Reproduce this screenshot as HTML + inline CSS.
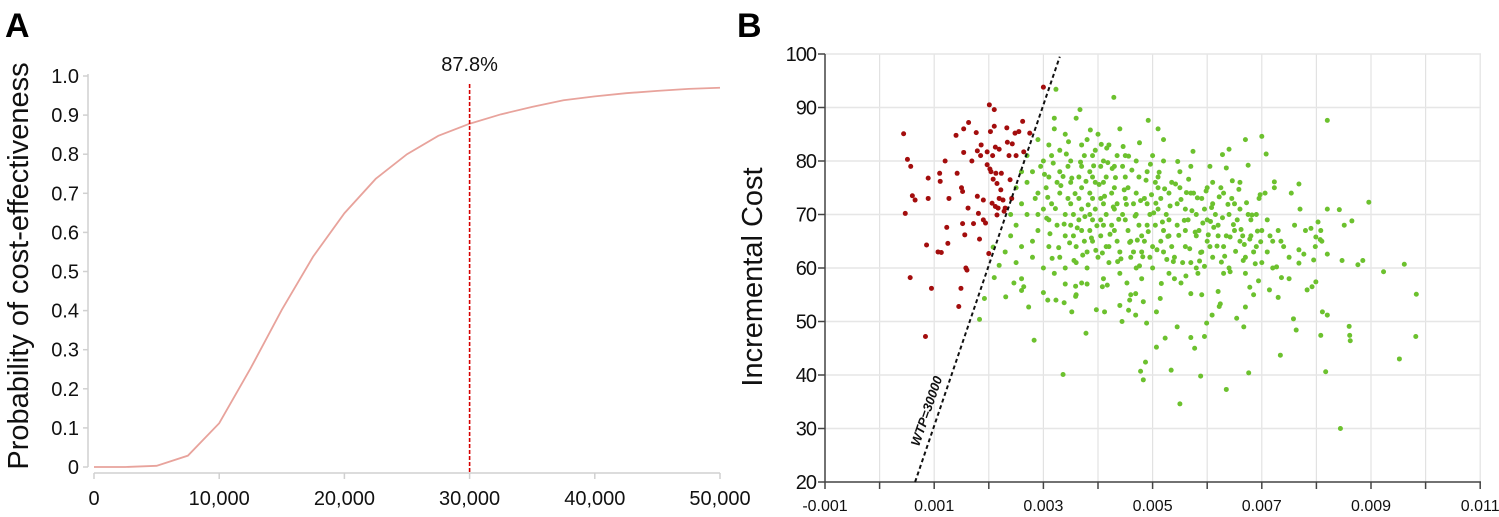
<!DOCTYPE html>
<html><head><meta charset="utf-8"><style>
body{margin:0;background:#fff;}
svg{display:block;font-family:"Liberation Sans Narrow","Liberation Sans",sans-serif;}
</style></head><body>
<svg id="s" width="1499" height="517" viewBox="0 0 1499 517" xmlns="http://www.w3.org/2000/svg">
<text x="5" y="37" font-family="Liberation Sans, sans-serif" font-weight="bold" font-size="34">A</text>
<text x="737" y="37" font-family="Liberation Sans, sans-serif" font-weight="bold" font-size="34">B</text>
<g id="ga"></g>
<g id="gb"></g>
</svg>
<script>
// Panel A data
const wtpValues=[0,2500,5000,7500,10000,12500,15000,17500,20000,22500,25000,27500,30000,32500,35000,37500,40000,42500,45000,47500,50000];
const probValues=[0,0,0.003,0.029,0.112,0.252,0.402,0.538,0.649,0.737,0.80,0.847,0.878,0.902,0.921,0.938,0.948,0.956,0.962,0.967,0.970];
const aXTicks=[0,10000,20000,30000,40000,50000];
const aXTickLabels=["0","10,000","20,000","30,000","40,000","50,000"];
const aYTicks=[0,0.1,0.2,0.3,0.4,0.5,0.6,0.7,0.8,0.9,1.0];
const aYTickLabels=["0","0.1","0.2","0.3","0.4","0.5","0.6","0.7","0.8","0.9","1.0"];
const thresholdWtp=30000;
const thresholdLabel="87.8%";
// Panel B data
const redPoints=[[0.00044,85.1],[0.00051,80.3],[0.00057,79],[0.0006,73.5],[0.00065,72.7],[0.00047,70.2],[0.00056,58.2],[0.00086,64.3],[0.00089,73],[0.00089,76.8],[0.00095,56.2],[0.00084,47.2],[0.0011,77.7],[0.00111,76.2],[0.00107,63],[0.00113,62.9],[0.0012,80],[0.00123,67.6],[0.00125,64.6],[0.00127,73],[0.0014,84.8],[0.00142,77.7],[0.00145,52.8],[0.00149,56.2],[0.0015,75],[0.00152,74.3],[0.00154,81.6],[0.00154,86],[0.00152,68.3],[0.00156,66.2],[0.00158,60],[0.0016,59.6],[0.00162,71.2],[0.00163,87.2],[0.00169,80],[0.00172,68.3],[0.00177,85.3],[0.00179,81.9],[0.00179,73.4],[0.00181,70.2],[0.00183,65.4],[0.00185,81],[0.00186,83],[0.0019,72.7],[0.0019,69],[0.00194,68.4],[0.00197,81.7],[0.00197,79.3],[0.002,62.7],[0.00201,90.5],[0.00203,85.5],[0.00204,78],[0.00206,72.1],[0.00207,81],[0.0021,89.6],[0.0021,86.5],[0.00212,82.6],[0.00213,77.7],[0.00215,75.8],[0.00217,71.2],[0.00215,69.9],[0.00219,82.2],[0.00222,74.6],[0.00223,77.7],[0.00226,72.7],[0.0023,71.2],[0.00233,86.2],[0.00234,83.5],[0.00237,81],[0.00239,76.5],[0.00242,73],[0.00243,83.2],[0.00248,85.2],[0.0025,81],[0.00255,85.5],[0.00262,87.4],[0.00264,81.7],[0.00275,85.2],[0.003,93.8],[0.00202,78.5],[0.00208,76.6],[0.00212,71.5],[0.00219,73],[0.00228,70.6]];
const greenPoints=[[0.00323,93.4],[0.00429,91.9],[0.0082,87.6],[0.00367,89.6],[0.00492,87.6],[0.0051,86],[0.007,84.6],[0.0067,84],[0.00708,81.3],[0.0064,82.2],[0.00628,81.2],[0.00675,79.2],[0.00635,78.7],[0.00605,79],[0.00574,81.8],[0.00768,75.7],[0.00754,74],[0.00723,76.1],[0.00723,75],[0.00706,74],[0.00697,73.7],[0.00896,72.3],[0.00842,70.9],[0.0082,71],[0.00865,68.8],[0.00851,68],[0.00803,68.6],[0.0079,67.4],[0.00808,67],[0.00799,65.8],[0.00807,65.3],[0.00798,64],[0.00777,62.6],[0.00768,63.4],[0.00768,60.9],[0.00795,61.5],[0.0082,62.6],[0.00847,61.4],[0.00876,60.6],[0.00885,61.4],[0.00923,59.3],[0.00961,60.7],[0.00983,55.1],[0.00982,47.2],[0.00952,43],[0.00844,30],[0.00817,40.6],[0.00808,47.4],[0.00811,51.8],[0.0082,51.2],[0.0086,49.1],[0.00861,47.4],[0.00862,46.4],[0.00799,57.4],[0.00792,56.5],[0.00783,55.9],[0.00758,50.5],[0.00763,48.4],[0.00734,43.7],[0.00736,58.2],[0.00727,60.2],[0.0073,54.5],[0.00714,55.9],[0.00694,57.6],[0.00685,55],[0.00678,56.4],[0.0067,52.7],[0.00667,49],[0.00654,50.6],[0.00676,40.4],[0.00635,37.3],[0.00588,39.8],[0.00595,47.2],[0.00599,49.7],[0.00609,51.2],[0.00622,52.8],[0.00624,53.3],[0.0062,55.6],[0.00642,59.3],[0.00577,45],[0.0057,47],[0.00545,49],[0.0055,34.6],[0.00534,40.9],[0.00523,46.9],[0.00507,45.2],[0.00487,42.4],[0.00478,40.7],[0.00483,39.1],[0.00489,49.7],[0.00444,50],[0.00378,47.8],[0.00336,40.1],[0.00283,46.5],[0.00183,50.4],[0.00231,54.6],[0.00192,54.3],[0.0021,58.2],[0.00219,60.5],[0.00208,63.9],[0.00273,52.7],[0.0026,55.8],[0.00264,56.5],[0.00246,57.2],[0.003,55.4],[0.00308,54],[0.00323,54],[0.00338,53.5],[0.00352,51.8],[0.00359,54.7],[0.00397,52.2],[0.00412,51.8],[0.00408,56.5],[0.0037,57.2],[0.00359,56.6],[0.00417,56.8],[0.00453,57.2],[0.00458,54],[0.00469,55.2],[0.00483,53.7],[0.00456,52.1],[0.00469,51.2],[0.00507,51.8],[0.00514,54.3],[0.00516,57.1],[0.00552,57.2],[0.00561,58.5],[0.00583,59],[0.00595,60.3],[0.0057,55.2],[0.0059,55],
[0.0027,81],[0.0028,78],[0.0029,84],[0.0027,76],[0.0026,72],[0.0025,68],[0.0024,66],[0.0026,64],[0.0028,62],[0.0027,70],[0.0029,74],[0.003,80],[0.0029,67],[0.0025,61],[0.0023,63],[0.0028,65],[0.003,71],[0.0031,77],[0.0031,69],[0.0031,64],[0.003,60],[0.0032,86],[0.0032,88],[0.0033,82],[0.0033,78],[0.0033,74],[0.0034,70],[0.0034,66],[0.0033,62],[0.0032,59],[0.0034,85],[0.0035,80],[0.0035,76],[0.0035,72],[0.0035,68],[0.0036,64],[0.0036,61],[0.0034,57],[0.0036,88],[0.0037,83],[0.0037,79],[0.0037,75],[0.0037,71],[0.0037,67],[0.0038,63],[0.0038,60],[0.0036,55],[0.0038,84],[0.0039,81],[0.0039,77],[0.0039,73],[0.0039,69],[0.0039,65],[0.004,62],[0.0041,58],[0.004,85],[0.0041,80],[0.0041,76],[0.0041,72],[0.0041,68],[0.0042,64],[0.0042,61],[0.0042,83],[0.0043,79],[0.0043,75],[0.0043,71],[0.0043,67],[0.0044,63],[0.0044,59],[0.0044,86],[0.0045,81],[0.0045,77],[0.0045,73],[0.0045,69],[0.0046,65],[0.0046,62],[0.0046,55],[0.0047,80],[0.0047,74],[0.0047,70],[0.0048,66],[0.0048,63],[0.0048,58],[0.0049,78],[0.0049,72],[0.0049,68],[0.005,64],[0.005,60],[0.005,81],[0.0051,77],[0.0051,75],[0.0051,71],[0.0052,67],[0.0052,63],[0.0052,80],[0.0053,74],[0.0053,69],[0.0053,66],[0.0054,62],[0.0054,58],[0.0055,78],[0.0055,75],[0.0056,71],[0.0056,67],[0.0056,64],[0.0057,74],[0.0057,61],[0.0058,70],[0.0058,66],[0.0059,73],[0.0059,63],[0.006,75],[0.006,69],[0.006,65],[0.0061,72],[0.0061,62],[0.0062,68],[0.0062,66],[0.0063,74],[0.0063,64],[0.0064,70],[0.0064,60],[0.0065,67],[0.0065,72],[0.0066,65],[0.0066,71],[0.0067,62],[0.0068,69],[0.0068,66],[0.0069,64],[0.007,67],[0.007,61],[0.0071,69],[0.0072,65],[0.0073,67],[0.0074,64],[0.0075,62],[0.0076,68],
[0.00285,73],[0.00295,79],[0.00305,75],[0.00315,81],[0.00315,72],[0.00325,68],[0.00325,76],[0.00345,79],[0.00345,73],[0.00355,70],[0.00355,66],[0.00365,77],[0.00365,73],[0.00365,69],[0.00375,81],[0.00375,65],[0.00385,78],[0.00385,74],[0.00385,70],[0.00385,67],[0.00395,82],[0.00395,76],[0.00395,71],[0.00405,79],[0.00405,73],[0.00405,69],[0.00405,66],[0.00415,77],[0.00415,70],[0.00415,64],[0.00425,74],[0.00425,68],[0.00435,81],[0.00435,72],[0.00435,65],[0.00445,79],[0.00445,70],[0.00455,75],[0.00455,67],[0.00465,72],[0.00465,63],[0.00475,77],[0.00475,68],[0.00485,73],[0.00485,65],[0.00495,70],[0.00495,62],[0.00505,76],[0.00505,68],[0.00515,73],[0.00515,65],[0.00525,70],[0.00535,76],[0.00535,64],[0.00545,72],[0.00545,68],[0.00555,61],[0.00565,69],[0.00575,74],[0.00585,67],[0.00595,71],[0.00605,64],[0.00615,70],[0.00625,75],[0.00635,66],[0.00645,73],[0.00655,69],[0.00665,66],[0.00675,70],[0.00685,63],[0.00695,73],[0.00715,66],[0.00735,65],
[0.0031,83],[0.0029,70],[0.0034,60],[0.0038,57],[0.0044,53],[0.0047,60],[0.0053,59],[0.0058,60],[0.0063,59],[0.0067,59],[0.0026,58],[0.0024,70],[0.0025,75],[0.0026,78],[0.0052,84],[0.0057,79],[0.0061,76],[0.0066,76],[0.0069,70],[0.0071,63],[0.0078,67],[0.0077,71],[0.0081,65],[0.0075,58],[0.0072,60],
[0.00302,77.5],[0.00308,73.2],[0.00312,66.4],[0.00318,79.6],[0.00322,71.1],[0.00328,63.8],[0.00332,75.4],[0.00338,68.2],[0.00342,81.3],[0.00348,64.7],[0.00352,76.8],[0.00358,73.9],[0.00362,67.5],[0.00368,79.8],[0.00372,62.4],[0.00378,76.2],[0.00382,71.8],[0.00388,65.6],[0.00392,79.1],[0.00398,67.9],[0.00402,75.6],[0.00408,62.8],[0.00412,73.4],[0.00418,79.7],[0.00422,66.3],[0.00428,71.4],[0.00432,76.9],[0.00438,69.1],[0.00442,61.7],[0.00448,74.6],[0.00452,71.9],[0.00458,64.8],[0.00462,78.3],[0.00468,69.7],[0.00472,65.2],[0.00478,72.6],[0.00482,62.1],[0.00488,76.4],[0.00492,66.8],[0.00498,73.7],[0.00502,70.3],[0.00508,63.4],[0.00512,77.9],[0.00518,68.6],[0.00522,74.8],[0.00528,65.9],[0.00532,71.6],[0.00538,61.2],[0.00542,75.7],[0.00548,66.1],[0.00552,72.8],[0.00558,68.9],[0.00562,74.1],[0.00568,63.6],[0.00572,70.7],[0.00578,66.7],[0.00582,73.1],[0.00588,62.9],[0.00592,68.4],[0.00598,74.4],[0.00602,66.2],[0.00608,71.3],[0.00612,67.6],[0.00618,64.1],[0.00622,73.3],[0.00628,69.4],[0.00632,62.2],[0.00638,71.9],[0.00642,65.8],[0.00648,68.1],[0.00652,63.1],[0.00658,74.7],[0.00662,67.2],[0.00668,64.4],[0.00672,72.2],[0.00678,65.4],[0.00682,69.9],[0.00688,60.8],[0.00692,66.9],[0.00698,64.9],
[0.00306,69.3],[0.00316,61.8],[0.00336,77.1],[0.00346,83.6],[0.00356,61.4],[0.00376,69.6],[0.00396,63.3],[0.00416,82.4],[0.00426,78.6],[0.00436,61.2],[0.00456,80.9],[0.00476,60.4],[0.00496,79.4],[0.00506,72.1],[0.00526,61.6],[0.00546,79.9],[0.00566,76.6],[0.00586,61.3],[0.00606,68.7],[0.00626,61.1],[0.00646,76.3],[0.00666,61.4],[0.00386,85.8],[0.00406,83.1],[0.00446,82.7],[0.00476,83.4]];
const bXTicks=[-0.001,0.001,0.003,0.005,0.007,0.009,0.011];
const bXTickLabels=["-0.001","0.001","0.003","0.005","0.007","0.009","0.011"];
const bYTicks=[20,30,40,50,60,70,80,90,100];
const bYTickLabels=["20","30","40","50","60","70","80","90","100"];
const wtpSlope=30000;

const NS="http://www.w3.org/2000/svg";
function mk(parent,tag,attrs,text){const e=document.createElementNS(NS,tag);for(const k in attrs)e.setAttribute(k,attrs[k]);if(text!==undefined)e.textContent=text;parent.appendChild(e);return e;}

// ---- Panel A ----
const ga=document.getElementById('ga');
const ax=v=>94+v/50000*626;
const ay=v=>467-v*391;
let e;
e=mk(ga,'line',{x1:88,y1:ay(1)-2,x2:88,y2:ay(0),stroke:'#d0d0d0','stroke-width':1.5});


e=mk(ga,'line',{x1:ax(0),y1:473,x2:ax(50000),y2:473,stroke:'#d0d0d0','stroke-width':1.5});


aYTicks.forEach((t,i)=>{
  mk(ga,'line',{x1:83,y1:ay(t),x2:88,y2:ay(t),stroke:'#d0d0d0','stroke-width':1.5});
  e=mk(ga,'text',{x:79,y:ay(t)+7,'text-anchor':'end','font-size':20,fill:'#111'},aYTickLabels[i]);
  
  
});
aXTicks.forEach((t,i)=>{
  mk(ga,'line',{x1:ax(t),y1:473,x2:ax(t),y2:479,stroke:'#d0d0d0','stroke-width':1.5});
  e=mk(ga,'text',{x:ax(t),y:505,'text-anchor':'middle','font-size':20,fill:'#111'},aXTickLabels[i]);
  
  
});
e=mk(ga,'text',{x:0,y:0,transform:'translate(28,266) rotate(-90)','text-anchor':'middle','font-size':29,'font-family':'Liberation Sans, sans-serif',fill:'#111'},'Probability of cost-effectiveness');


e=mk(ga,'polyline',{points:wtpValues.map((w,i)=>ax(w)+','+ay(probValues[i])).join(' '),fill:'none',stroke:'#e8a39c','stroke-width':1.8});


e=mk(ga,'line',{x1:ax(thresholdWtp),y1:84,x2:ax(thresholdWtp),y2:473,stroke:'#d40000','stroke-width':1.6,'stroke-dasharray':'4,2'});


e=mk(ga,'text',{x:ax(thresholdWtp),y:71,'text-anchor':'middle','font-size':20,fill:'#111'},thresholdLabel);



// ---- Panel B ----
const gb=document.getElementById('gb');
const bx=v=>825+(v+0.001)*54600;
const by=v=>482-(v-20)*5.35;
for(let k=0;k<=12;k++){const v=-0.001+k*0.001;
  if(k>0) mk(gb,'line',{x1:bx(v),y1:by(100),x2:bx(v),y2:by(20),stroke:'#e2e2e2','stroke-width':1.2});
  mk(gb,'line',{x1:bx(v),y1:482,x2:bx(v),y2:489,stroke:'#444','stroke-width':1.5});
}
bYTicks.forEach((t,i)=>{
  if(t>20){e=mk(gb,'line',{x1:825,y1:by(t),x2:1481,y2:by(t),stroke:'#e6e6e6','stroke-width':1.5});
  
  }
  mk(gb,'line',{x1:818,y1:by(t),x2:825,y2:by(t),stroke:'#444','stroke-width':1.5});
  e=mk(gb,'text',{x:816,y:by(t)+7,'text-anchor':'end','font-size':20,'letter-spacing':'-1',fill:'#111'},bYTickLabels[i]);
  
  
});
bXTicks.forEach((t,i)=>{
  e=mk(gb,'text',{x:bx(t),y:511,'text-anchor':'middle','font-size':16,'font-family':'Liberation Sans, sans-serif',fill:'#111'},bXTickLabels[i]);
  
  
});
e=mk(gb,'line',{x1:825,y1:by(100),x2:825,y2:482,stroke:'#444','stroke-width':1.5});


e=mk(gb,'line',{x1:825,y1:482,x2:1481,y2:482,stroke:'#444','stroke-width':1.5});


e=mk(gb,'text',{x:0,y:0,transform:'translate(762,277) rotate(-90)','text-anchor':'middle','font-size':29,'font-family':'Liberation Sans, sans-serif',fill:'#111'},'Incremental Cost');


redPoints.forEach(p=>{e=mk(gb,'circle',{cx:bx(p[0]),cy:by(p[1]),r:2.5,fill:'#a30d0d'});

});
greenPoints.forEach(p=>{e=mk(gb,'circle',{cx:bx(p[0]),cy:by(p[1]),r:2.5,fill:'#6cc12e'});

});
// WTP line: cost = slope*effect + b, passing (0.00065,20)
const wIntercept=20-wtpSlope*0.00065;
const eAt=c=>(c-wIntercept)/wtpSlope;
e=mk(gb,'line',{x1:bx(eAt(20)),y1:by(20),x2:bx(eAt(99.5)),y2:by(99.5),stroke:'#111','stroke-width':2,'stroke-dasharray':'4,3'});


const lx=bx(eAt(33)), ly=by(33);
const ang=Math.atan2(by(100)-by(20),bx(eAt(100))-bx(eAt(20)))*180/Math.PI;
e=mk(gb,'text',{x:0,y:0,transform:`translate(${lx-8},${ly}) rotate(${ang})`,'text-anchor':'middle','font-size':13,'font-weight':'bold','font-style':'italic','font-family':'Liberation Sans, sans-serif',fill:'#111'},'WTP=30000');


</script>
</body></html>
